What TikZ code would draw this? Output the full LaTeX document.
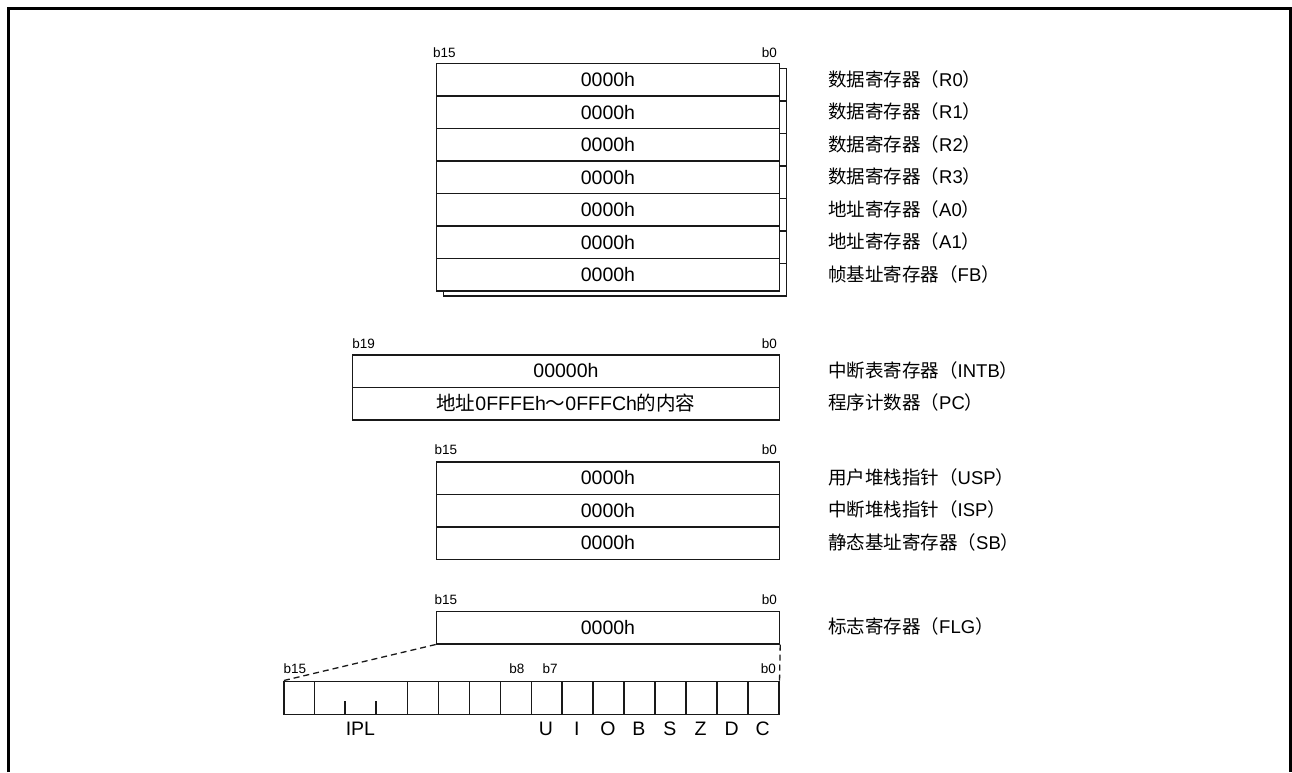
\documentclass[tikz,border=0pt]{standalone}
\usepackage{fontspec}
\setmainfont{Liberation Sans}
\newfontfamily\cjk{Noto Sans CJK SC}
\newcommand{\lp}{{\cjk （}}
\newcommand{\rp}{{\cjk ）}}
\begin{document}
\begin{tikzpicture}[x=1pt,y=-1pt,
  reg/.style={draw=black!90, line width=1.5pt, fill=white, inner sep=0pt, minimum height=32.5pt, anchor=north west, font=\fontsize{19.5}{21}\selectfont},
  shad/.style={draw=black!90, line width=1.5pt, fill=white, inner sep=0pt, minimum height=32.5pt, minimum width=343pt, anchor=north west},
  lbl/.style={anchor=west, inner sep=0pt, font=\fontsize{18.5}{20}\selectfont},
  bl/.style={inner sep=0pt, font=\fontsize{13.5}{15}\selectfont},
  cell/.style={draw=black!90, line width=1.5pt, inner sep=0pt, minimum height=33pt, minimum width=30.94pt, anchor=north west},
  flag/.style={inner sep=0pt, anchor=base, font=\fontsize{19.5}{21}\selectfont},
  guide/.style={draw=black!90, line width=1.3pt, dash pattern=on 6pt off 4pt}
]
\useasboundingbox (0,0) rectangle (1292,772);
\draw[line width=3pt] (8.5,772) -- (8.5,8.5) -- (1290.5,8.5) -- (1290.5,772);

% ---- data / address registers (bank) ----
\node[bl, anchor=base west] (h1l) at (433,57.5) {b15};
\node[bl, anchor=base east] (h1r) at (777,57.5) {b0};
\node[shad] (s0) at (442.7,67.7) {};
\node[shad] (s1) at (442.7,100.2) {};
\node[shad] (s2) at (442.7,132.7) {};
\node[shad] (s3) at (442.7,165.2) {};
\node[shad] (s4) at (442.7,197.7) {};
\node[shad] (s5) at (442.7,230.2) {};
\node[shad] (s6) at (442.7,262.7) {};
\node[reg, minimum width=343pt] (r0) at (435.7,62.7) {0000h};
\node[reg, minimum width=343pt] (r1) at (435.7,95.2) {0000h};
\node[reg, minimum width=343pt] (r2) at (435.7,127.7) {0000h};
\node[reg, minimum width=343pt] (r3) at (435.7,160.2) {0000h};
\node[reg, minimum width=343pt] (a0) at (435.7,192.7) {0000h};
\node[reg, minimum width=343pt] (a1) at (435.7,225.2) {0000h};
\node[reg, minimum width=343pt] (fb) at (435.7,257.7) {0000h};
\node[lbl] (lr0) at (828,79) {{\cjk 数据寄存器}\lp R0\rp};
\node[lbl] (lr1) at (828,111.5) {{\cjk 数据寄存器}\lp R1\rp};
\node[lbl] (lr2) at (828,144) {{\cjk 数据寄存器}\lp R2\rp};
\node[lbl] (lr3) at (828,176.5) {{\cjk 数据寄存器}\lp R3\rp};
\node[lbl] (la0) at (828,209) {{\cjk 地址寄存器}\lp A0\rp};
\node[lbl] (la1) at (828,241.5) {{\cjk 地址寄存器}\lp A1\rp};
\node[lbl] (lfb) at (828,274) {{\cjk 帧基址寄存器}\lp FB\rp};

% ---- INTB / PC ----
\node[bl, anchor=base west] (h2l) at (352.2,348.3) {b19};
\node[bl, anchor=base east] (h2r) at (777,348.3) {b0};
\node[reg, minimum width=427pt] (intb) at (351.7,354) {00000h};
\node[reg, minimum width=427pt] (pc) at (351.7,386.5) {{\cjk 地址}0FFFEh{\cjk ～}0FFFCh{\cjk 的内容}};
\node[lbl] (lintb) at (828,370.3) {{\cjk 中断表寄存器}\lp INTB\rp};
\node[lbl] (lpc) at (828,402.8) {{\cjk 程序计数器}\lp PC\rp};

% ---- USP / ISP / SB ----
\node[bl, anchor=base west] (h3l) at (434.5,454.5) {b15};
\node[bl, anchor=base east] (h3r) at (777,454.5) {b0};
\node[reg, minimum width=343pt] (usp) at (435.7,461) {0000h};
\node[reg, minimum width=343pt] (isp) at (435.7,493.5) {0000h};
\node[reg, minimum width=343pt] (sb) at (435.7,526) {0000h};
\node[lbl] (lusp) at (828,477.3) {{\cjk 用户堆栈指针}\lp USP\rp};
\node[lbl] (lisp) at (828,509.8) {{\cjk 中断堆栈指针}\lp ISP\rp};
\node[lbl] (lsb) at (828,542.3) {{\cjk 静态基址寄存器}\lp SB\rp};

% ---- FLG ----
\node[bl, anchor=base west] (h4l) at (434.5,604.3) {b15};
\node[bl, anchor=base east] (h4r) at (777,604.3) {b0};
\node[reg, minimum width=343pt] (flg) at (435.7,610.5) {0000h};
\node[lbl] (lflg) at (828,626.7) {{\cjk 标志寄存器}\lp FLG\rp};

% ---- FLG bits ----
\node[cell] (c15) at (283,680.7) {};
\node[cell, minimum width=92.82pt] (ipl) at (313.94,680.7) {};
\node[cell] (c11) at (406.76,680.7) {};
\node[cell] (c10) at (437.70,680.7) {};
\node[cell] (c9) at (468.64,680.7) {};
\node[cell] (c8) at (499.58,680.7) {};
\node[cell] (c7) at (530.52,680.7) {};
\node[cell] (c6) at (561.46,680.7) {};
\node[cell] (c5) at (592.40,680.7) {};
\node[cell] (c4) at (623.34,680.7) {};
\node[cell] (c3) at (654.28,680.7) {};
\node[cell] (c2) at (685.22,680.7) {};
\node[cell] (c1) at (716.16,680.7) {};
\node[cell] (c0) at (747.10,680.7) {};
\draw[draw=black!90, line width=1.5pt] (344.88,713.7) -- (344.88,700.6) (375.82,713.7) -- (375.82,700.6);
\node[bl, anchor=base west] (h5l) at (283.5,673.2) {b15};
\node[bl, anchor=base east] (h5b8) at (524.5,673.2) {b8};
\node[bl, anchor=base west] (h5b7) at (542.5,673.2) {b7};
\node[bl, anchor=base east] (h5r) at (776,673.2) {b0};

\node[flag] (fipl) at (360.4,735.4) {IPL};
\node[flag] (fu) at (545.99,735.4) {U};
\node[flag] (fi) at (576.93,735.4) {I};
\node[flag] (fo) at (607.87,735.4) {O};
\node[flag] (fbb) at (638.81,735.4) {B};
\node[flag] (fs) at (669.75,735.4) {S};
\node[flag] (fz) at (700.69,735.4) {Z};
\node[flag] (fd) at (731.63,735.4) {D};
\node[flag] (fc) at (762.57,735.4) {C};

\draw[guide] (flg.south west) -- (c15.north west);
\draw[guide] (flg.south east) -- (c0.north east);
\end{tikzpicture}
\end{document}
